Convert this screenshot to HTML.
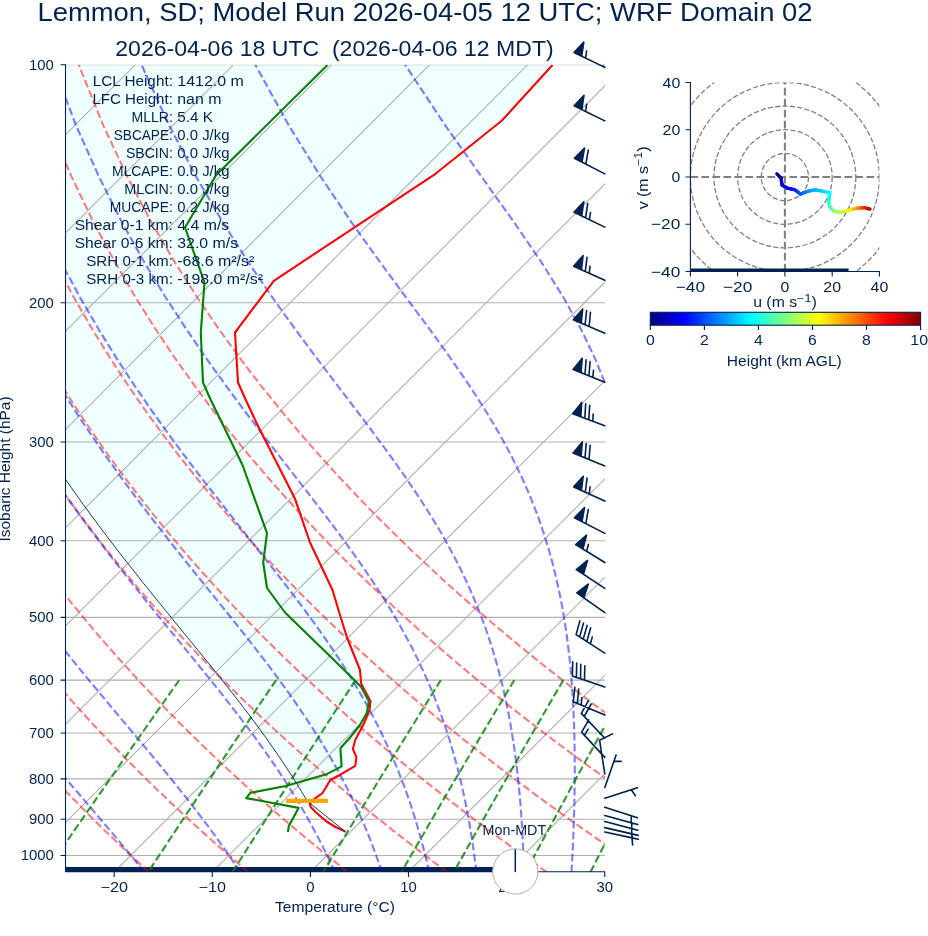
<!DOCTYPE html>
<html><head><meta charset="utf-8"><title>Skew-T</title>
<style>html,body{margin:0;padding:0;background:#fff}svg{display:block;will-change:transform}text{font-family:"Liberation Sans",sans-serif;fill:#00224f}</style>
</head><body>
<svg width="928" height="936" viewBox="0 0 928 936">
<rect width="928" height="936" fill="#fff"/>
<clipPath id="ax"><rect x="65.5" y="64.7" width="539.5" height="807.3"/></clipPath>
<g clip-path="url(#ax)">
<path d="M552.5,65.0 L502.0,120.5 L435.5,173.8 L273.8,280.8 L235.0,332.5 L238.0,382.5 L245.8,400.0 L257.5,425.0 L295.0,498.8 L310.0,542.5 L332.5,590.0 L340.0,615.0 L347.0,637.5 L360.0,670.0 L361.2,683.8 L370.5,701.2 L369.5,710.0 L363.8,723.8 L355.2,740.0 L352.9,749.0 L356.4,757.3 L355.2,765.9 L341.2,774.2 L330.3,780.0 L322.7,792.8 L314.4,798.8 L307.1,800.9 L306.4,799.7 L304.0,795.6 L301.5,791.5 L299.0,787.3 L296.4,783.1 L293.7,778.9 L290.9,774.5 L288.1,770.2 L285.2,765.7 L282.2,761.2 L279.1,756.7 L276.0,752.1 L272.7,747.4 L269.4,742.7 L266.0,737.9 L262.5,733.0 L258.9,728.1 L255.2,723.0 L251.4,718.0 L247.5,712.8 L243.5,707.6 L239.4,702.2 L235.2,696.8 L230.9,691.3 L226.5,685.7 L222.0,680.1 L217.4,674.3 L212.7,668.4 L207.9,662.4 L202.9,656.4 L197.9,650.2 L192.8,643.9 L187.5,637.5 L182.2,630.9 L176.7,624.2 L171.2,617.4 L165.5,610.5 L159.8,603.4 L153.9,596.2 L148.0,588.8 L141.9,581.3 L135.8,573.5 L129.6,565.6 L123.2,557.6 L116.8,549.3 L110.3,540.8 L103.7,532.1 L97.0,523.2 L90.2,514.0 L83.4,504.6 L76.4,494.9 L69.4,485.0 L62.3,474.7 L55.1,464.2 L47.8,453.3 L40.5,442.0 L33.1,430.4 L25.5,418.3 L18.0,405.8 L10.3,392.9 L2.6,379.4 L-5.2,365.4 L-13.1,350.8 L-21.0,335.5 L-29.0,319.5 L-37.0,302.8 L-45.1,285.1 L-53.2,266.6 L-61.3,246.9 L-69.5,226.1 L-77.6,204.0 L-85.6,180.3 L-93.6,154.8 L-101.4,127.3 L-109.0,97.4 L-116.3,64.7Z" fill="#f0ffff" stroke="none"/>
<path d="M65.5,64.7H605.0" stroke="#b0b0b0" stroke-width="1.1" fill="none"/>
<path d="M65.5,302.8H605.0" stroke="#b0b0b0" stroke-width="1.1" fill="none"/>
<path d="M65.5,442.0H605.0" stroke="#b0b0b0" stroke-width="1.1" fill="none"/>
<path d="M65.5,540.8H605.0" stroke="#b0b0b0" stroke-width="1.1" fill="none"/>
<path d="M65.5,617.4H605.0" stroke="#b0b0b0" stroke-width="1.1" fill="none"/>
<path d="M65.5,680.1H605.0" stroke="#b0b0b0" stroke-width="1.1" fill="none"/>
<path d="M65.5,733.0H605.0" stroke="#b0b0b0" stroke-width="1.1" fill="none"/>
<path d="M65.5,778.9H605.0" stroke="#b0b0b0" stroke-width="1.1" fill="none"/>
<path d="M65.5,819.3H605.0" stroke="#b0b0b0" stroke-width="1.1" fill="none"/>
<path d="M65.5,855.5H605.0" stroke="#b0b0b0" stroke-width="1.1" fill="none"/>
<path d="M-1161.1,872.0L-355.1,64.7M-1063.0,872.0L-257.0,64.7M-964.9,872.0L-158.9,64.7M-866.8,872.0L-60.8,64.7M-768.7,872.0L37.3,64.7M-670.6,872.0L135.4,64.7M-572.5,872.0L233.5,64.7M-474.4,872.0L331.6,64.7M-376.3,872.0L429.7,64.7M-278.2,872.0L527.8,64.7M-180.1,872.0L625.9,64.7M-82.0,872.0L724.0,64.7M16.1,872.0L822.1,64.7M114.2,872.0L920.2,64.7M212.3,872.0L1018.3,64.7M310.4,872.0L1116.4,64.7M408.5,872.0L1214.5,64.7M506.6,872.0L1312.6,64.7M604.7,872.0L1410.7,64.7" stroke="#b0b0b0" stroke-width="1.1" fill="none"/>
<rect x="65.5" y="867" width="450.5" height="5.5" fill="#00224f"/>
<path d="M49.6,872.3 L43.2,865.9 L36.7,859.3 L30.1,852.7 L23.5,845.9 L16.8,839.0 L10.1,831.9 L3.3,824.7 L-3.6,817.4 L-10.5,809.8 L-17.4,802.1 L-24.5,794.3 L-31.6,786.2 L-38.7,778.0 L-46.0,769.5 L-53.3,760.9 L-60.6,752.0 L-68.1,742.9 L-75.6,733.5 L-83.2,723.9 L-90.8,714.0 L-98.6,703.8 L-106.4,693.2 L-114.3,682.4 L-122.3,671.2 L-130.3,659.6 L-138.5,647.6 L-146.7,635.2 L-155.0,622.3 L-163.4,608.9 L-171.9,595.0 L-180.5,580.5 L-189.1,565.3 L-197.9,549.5 L-206.7,532.8 L-215.5,515.4 L-224.5,496.9 L-233.5,477.5 L-242.5,456.9 L-251.6,434.9 L-260.7,411.5 L-269.7,386.3 L-278.7,359.2 L-287.5,329.7 L-296.1,297.5 L-304.3,261.9 L-312.0,222.2 L-318.8,177.2 L-324.3,125.6 L-327.7,64.7M149.1,872.3 L142.1,865.9 L135.1,859.3 L128.0,852.7 L120.8,845.9 L113.6,839.0 L106.3,831.9 L98.9,824.7 L91.5,817.4 L84.0,809.8 L76.4,802.1 L68.8,794.3 L61.0,786.2 L53.2,778.0 L45.4,769.5 L37.4,760.9 L29.4,752.0 L21.3,742.9 L13.0,733.5 L4.8,723.9 L-3.6,714.0 L-12.1,703.8 L-20.7,693.2 L-29.3,682.4 L-38.1,671.2 L-47.0,659.6 L-56.0,647.6 L-65.0,635.2 L-74.2,622.3 L-83.5,608.9 L-92.9,595.0 L-102.4,580.5 L-112.1,565.3 L-121.8,549.5 L-131.7,532.8 L-141.6,515.4 L-151.7,496.9 L-161.9,477.5 L-172.1,456.9 L-182.5,434.9 L-192.9,411.5 L-203.3,386.3 L-213.8,359.2 L-224.1,329.7 L-234.4,297.5 L-244.4,261.9 L-254.1,222.2 L-263.0,177.2 L-270.9,125.6 L-276.9,64.7M248.6,872.3 L241.1,865.9 L233.5,859.3 L225.8,852.7 L218.1,845.9 L210.3,839.0 L202.5,831.9 L194.5,824.7 L186.5,817.4 L178.4,809.8 L170.2,802.1 L162.0,794.3 L153.6,786.2 L145.2,778.0 L136.7,769.5 L128.1,760.9 L119.4,752.0 L110.6,742.9 L101.7,733.5 L92.7,723.9 L83.6,714.0 L74.4,703.8 L65.0,693.2 L55.6,682.4 L46.0,671.2 L36.4,659.6 L26.6,647.6 L16.6,635.2 L6.6,622.3 L-3.6,608.9 L-13.9,595.0 L-24.4,580.5 L-35.0,565.3 L-45.8,549.5 L-56.6,532.8 L-67.7,515.4 L-78.9,496.9 L-90.2,477.5 L-101.7,456.9 L-113.3,434.9 L-125.1,411.5 L-136.9,386.3 L-148.8,359.2 L-160.8,329.7 L-172.7,297.5 L-184.6,261.9 L-196.1,222.2 L-207.2,177.2 L-217.4,125.6 L-226.1,64.7M348.1,872.3 L340.0,865.9 L331.9,859.3 L323.7,852.7 L315.4,845.9 L307.1,839.0 L298.7,831.9 L290.1,824.7 L281.5,817.4 L272.9,809.8 L264.1,802.1 L255.2,794.3 L246.2,786.2 L237.2,778.0 L228.0,769.5 L218.8,760.9 L209.4,752.0 L199.9,742.9 L190.3,733.5 L180.6,723.9 L170.8,714.0 L160.8,703.8 L150.7,693.2 L140.5,682.4 L130.2,671.2 L119.7,659.6 L109.1,647.6 L98.3,635.2 L87.4,622.3 L76.3,608.9 L65.1,595.0 L53.6,580.5 L42.1,565.3 L30.3,549.5 L18.4,532.8 L6.2,515.4 L-6.1,496.9 L-18.6,477.5 L-31.3,456.9 L-44.2,434.9 L-57.3,411.5 L-70.5,386.3 L-83.9,359.2 L-97.5,329.7 L-111.1,297.5 L-124.7,261.9 L-138.2,222.2 L-151.4,177.2 L-164.0,125.6 L-175.3,64.7M447.5,872.3 L439.0,865.9 L430.3,859.3 L421.6,852.7 L412.8,845.9 L403.9,839.0 L394.9,831.9 L385.8,824.7 L376.6,817.4 L367.3,809.8 L357.9,802.1 L348.4,794.3 L338.9,786.2 L329.2,778.0 L319.4,769.5 L309.4,760.9 L299.4,752.0 L289.2,742.9 L278.9,733.5 L268.5,723.9 L258.0,714.0 L247.3,703.8 L236.5,693.2 L225.5,682.4 L214.3,671.2 L203.1,659.6 L191.6,647.6 L180.0,635.2 L168.2,622.3 L156.2,608.9 L144.0,595.0 L131.7,580.5 L119.1,565.3 L106.3,549.5 L93.4,532.8 L80.2,515.4 L66.7,496.9 L53.0,477.5 L39.1,456.9 L24.9,434.9 L10.5,411.5 L-4.1,386.3 L-19.0,359.2 L-34.1,329.7 L-49.4,297.5 L-64.8,261.9 L-80.3,222.2 L-95.6,177.2 L-110.5,125.6 L-124.5,64.7M547.0,872.3 L537.9,865.9 L528.7,859.3 L519.4,852.7 L510.1,845.9 L500.6,839.0 L491.1,831.9 L481.4,824.7 L471.6,817.4 L461.7,809.8 L451.8,802.1 L441.7,794.3 L431.5,786.2 L421.1,778.0 L410.7,769.5 L400.1,760.9 L389.4,752.0 L378.6,742.9 L367.6,733.5 L356.5,723.9 L345.2,714.0 L333.8,703.8 L322.2,693.2 L310.4,682.4 L298.5,671.2 L286.4,659.6 L274.1,647.6 L261.7,635.2 L249.0,622.3 L236.1,608.9 L223.0,595.0 L209.7,580.5 L196.2,565.3 L182.4,549.5 L168.4,532.8 L154.1,515.4 L139.5,496.9 L124.7,477.5 L109.5,456.9 L94.1,434.9 L78.3,411.5 L62.3,386.3 L45.9,359.2 L29.2,329.7 L12.3,297.5 L-5.0,261.9 L-22.4,222.2 L-39.8,177.2 L-57.1,125.6 L-73.7,64.7M646.5,872.3 L636.9,865.9 L627.1,859.3 L617.3,852.7 L607.4,845.9 L597.4,839.0 L587.2,831.9 L577.0,824.7 L566.7,817.4 L556.2,809.8 L545.6,802.1 L534.9,794.3 L524.1,786.2 L513.1,778.0 L502.0,769.5 L490.8,760.9 L479.4,752.0 L467.9,742.9 L456.2,733.5 L444.4,723.9 L432.4,714.0 L420.2,703.8 L407.9,693.2 L395.4,682.4 L382.7,671.2 L369.8,659.6 L356.6,647.6 L343.3,635.2 L329.8,622.3 L316.0,608.9 L302.0,595.0 L287.8,580.5 L273.2,565.3 L258.4,549.5 L243.4,532.8 L228.0,515.4 L212.3,496.9 L196.3,477.5 L179.9,456.9 L163.2,434.9 L146.1,411.5 L128.7,386.3 L110.8,359.2 L92.6,329.7 L73.9,297.5 L54.9,261.9 L35.6,222.2 L16.0,177.2 L-3.6,125.6 L-22.9,64.7M746.0,872.3 L735.8,865.9 L725.6,859.3 L715.2,852.7 L704.7,845.9 L694.1,839.0 L683.4,831.9 L672.6,824.7 L661.7,817.4 L650.6,809.8 L639.4,802.1 L628.1,794.3 L616.7,786.2 L605.1,778.0 L593.3,769.5 L581.5,760.9 L569.4,752.0 L557.2,742.9 L544.8,733.5 L532.3,723.9 L519.6,714.0 L506.7,703.8 L493.6,693.2 L480.3,682.4 L466.8,671.2 L453.1,659.6 L439.2,647.6 L425.0,635.2 L410.6,622.3 L395.9,608.9 L381.0,595.0 L365.8,580.5 L350.3,565.3 L334.5,549.5 L318.4,532.8 L301.9,515.4 L285.1,496.9 L267.9,477.5 L250.3,456.9 L232.4,434.9 L213.9,411.5 L195.1,386.3 L175.7,359.2 L155.9,329.7 L135.6,297.5 L114.8,261.9 L93.5,222.2 L71.8,177.2 L49.8,125.6 L27.9,64.7M845.4,872.3 L834.8,865.9 L824.0,859.3 L813.1,852.7 L802.0,845.9 L790.9,839.0 L779.6,831.9 L768.2,824.7 L756.7,817.4 L745.1,809.8 L733.3,802.1 L721.4,794.3 L709.3,786.2 L697.1,778.0 L684.7,769.5 L672.1,760.9 L659.4,752.0 L646.5,742.9 L633.5,733.5 L620.2,723.9 L606.8,714.0 L593.2,703.8 L579.3,693.2 L565.3,682.4 L551.0,671.2 L536.5,659.6 L521.7,647.6 L506.7,635.2 L491.4,622.3 L475.8,608.9 L460.0,595.0 L443.8,580.5 L427.4,565.3 L410.5,549.5 L393.4,532.8 L375.8,515.4 L357.9,496.9 L339.6,477.5 L320.8,456.9 L301.5,434.9 L281.8,411.5 L261.5,386.3 L240.7,359.2 L219.3,329.7 L197.3,297.5 L174.6,261.9 L151.4,222.2 L127.6,177.2 L103.3,125.6 L78.7,64.7" stroke="#ff0000" stroke-opacity="0.5" stroke-width="2.15" stroke-dasharray="7.7 3.3" fill="none"/>
<path d="M47.5,872.3 L41.9,865.9 L36.2,859.3 L30.4,852.7 L24.5,845.9 L18.5,839.0 L12.3,831.9 L6.1,824.7 L-0.3,817.4 L-6.7,809.8 L-13.3,802.1 L-20.0,794.3 L-26.7,786.2 L-33.6,778.0 L-40.6,769.5 L-47.7,760.9 L-54.9,752.0 L-62.2,742.9 L-69.5,733.5 L-77.0,723.9 L-84.6,714.0 L-92.3,703.8 L-100.1,693.2 L-107.9,682.4 L-115.9,671.2 L-124.0,659.6 L-132.1,647.6 L-140.4,635.2 L-148.7,622.3 L-157.2,608.9 L-165.7,595.0 L-174.4,580.5 L-183.1,565.3 L-191.9,549.5 L-200.8,532.8 L-209.7,515.4 L-218.8,496.9 L-227.8,477.5 L-237.0,456.9 L-246.2,434.9 L-255.3,411.5 L-264.5,386.3 L-273.6,359.2 L-282.5,329.7 L-291.2,297.5 L-299.6,261.9 L-307.4,222.2 L-314.4,177.2 L-320.1,125.6 L-323.7,64.7M144.6,872.3 L139.4,865.9 L134.1,859.3 L128.6,852.7 L123.0,845.9 L117.2,839.0 L111.3,831.9 L105.2,824.7 L98.9,817.4 L92.5,809.8 L85.9,802.1 L79.2,794.3 L72.3,786.2 L65.3,778.0 L58.1,769.5 L50.7,760.9 L43.2,752.0 L35.5,742.9 L27.7,733.5 L19.7,723.9 L11.6,714.0 L3.3,703.8 L-5.1,693.2 L-13.7,682.4 L-22.4,671.2 L-31.2,659.6 L-40.2,647.6 L-49.3,635.2 L-58.6,622.3 L-68.0,608.9 L-77.5,595.0 L-87.1,580.5 L-96.9,565.3 L-106.8,549.5 L-116.9,532.8 L-127.0,515.4 L-137.3,496.9 L-147.7,477.5 L-158.2,456.9 L-168.8,434.9 L-179.5,411.5 L-190.2,386.3 L-200.9,359.2 L-211.6,329.7 L-222.2,297.5 L-232.6,261.9 L-242.6,222.2 L-252.0,177.2 L-260.3,125.6 L-266.9,64.7M240.3,872.3 L236.1,865.9 L231.7,859.3 L227.1,852.7 L222.4,845.9 L217.4,839.0 L212.3,831.9 L206.9,824.7 L201.4,817.4 L195.6,809.8 L189.7,802.1 L183.5,794.3 L177.0,786.2 L170.4,778.0 L163.5,769.5 L156.4,760.9 L149.0,752.0 L141.4,742.9 L133.6,733.5 L125.5,723.9 L117.2,714.0 L108.6,703.8 L99.8,693.2 L90.8,682.4 L81.6,671.2 L72.2,659.6 L62.5,647.6 L52.6,635.2 L42.5,622.3 L32.2,608.9 L21.7,595.0 L11.0,580.5 L0.1,565.3 L-11.0,549.5 L-22.3,532.8 L-33.8,515.4 L-45.4,496.9 L-57.3,477.5 L-69.3,456.9 L-81.5,434.9 L-93.8,411.5 L-106.3,386.3 L-118.9,359.2 L-131.6,329.7 L-144.3,297.5 L-157.0,261.9 L-169.4,222.2 L-181.5,177.2 L-192.8,125.6 L-202.7,64.7M334.9,872.3 L332.0,865.9 L329.0,859.3 L325.8,852.7 L322.5,845.9 L318.9,839.0 L315.2,831.9 L311.3,824.7 L307.2,817.4 L302.9,809.8 L298.3,802.1 L293.5,794.3 L288.5,786.2 L283.2,778.0 L277.6,769.5 L271.7,760.9 L265.5,752.0 L258.9,742.9 L252.1,733.5 L244.9,723.9 L237.3,714.0 L229.4,703.8 L221.1,693.2 L212.5,682.4 L203.4,671.2 L194.0,659.6 L184.2,647.6 L174.1,635.2 L163.5,622.3 L152.6,608.9 L141.4,595.0 L129.8,580.5 L117.8,565.3 L105.5,549.5 L92.9,532.8 L80.0,515.4 L66.8,496.9 L53.3,477.5 L39.5,456.9 L25.4,434.9 L11.0,411.5 L-3.6,386.3 L-18.5,359.2 L-33.6,329.7 L-48.9,297.5 L-64.3,261.9 L-79.8,222.2 L-95.1,177.2 L-110.1,125.6 L-124.1,64.7M382.0,872.3 L379.9,865.9 L377.6,859.3 L375.2,852.7 L372.6,845.9 L370.0,839.0 L367.1,831.9 L364.1,824.7 L360.9,817.4 L357.5,809.8 L354.0,802.1 L350.1,794.3 L346.1,786.2 L341.8,778.0 L337.3,769.5 L332.4,760.9 L327.3,752.0 L321.8,742.9 L316.0,733.5 L309.8,723.9 L303.2,714.0 L296.3,703.8 L288.9,693.2 L281.0,682.4 L272.8,671.2 L264.0,659.6 L254.7,647.6 L245.0,635.2 L234.8,622.3 L224.0,608.9 L212.8,595.0 L201.1,580.5 L188.9,565.3 L176.2,549.5 L163.1,532.8 L149.5,515.4 L135.5,496.9 L121.1,477.5 L106.4,456.9 L91.2,434.9 L75.6,411.5 L59.7,386.3 L43.4,359.2 L26.9,329.7 L10.0,297.5 L-7.2,261.9 L-24.5,222.2 L-41.9,177.2 L-59.0,125.6 L-75.6,64.7M429.2,872.3 L427.7,865.9 L426.2,859.3 L424.6,852.7 L422.8,845.9 L421.0,839.0 L419.0,831.9 L416.9,824.7 L414.7,817.4 L412.3,809.8 L409.8,802.1 L407.1,794.3 L404.2,786.2 L401.0,778.0 L397.7,769.5 L394.1,760.9 L390.3,752.0 L386.1,742.9 L381.7,733.5 L376.9,723.9 L371.7,714.0 L366.2,703.8 L360.2,693.2 L353.8,682.4 L346.9,671.2 L339.4,659.6 L331.5,647.6 L322.9,635.2 L313.7,622.3 L303.8,608.9 L293.4,595.0 L282.2,580.5 L270.3,565.3 L257.8,549.5 L244.6,532.8 L230.8,515.4 L216.3,496.9 L201.1,477.5 L185.4,456.9 L169.1,434.9 L152.3,411.5 L135.0,386.3 L117.2,359.2 L98.9,329.7 L80.1,297.5 L60.9,261.9 L41.4,222.2 L21.6,177.2 L1.8,125.6 L-17.7,64.7M476.4,872.3 L475.7,865.9 L474.8,859.3 L473.9,852.7 L473.0,845.9 L471.9,839.0 L470.8,831.9 L469.6,824.7 L468.3,817.4 L466.9,809.8 L465.4,802.1 L463.7,794.3 L461.9,786.2 L460.0,778.0 L457.9,769.5 L455.6,760.9 L453.1,752.0 L450.4,742.9 L447.5,733.5 L444.3,723.9 L440.8,714.0 L437.0,703.8 L432.9,693.2 L428.3,682.4 L423.3,671.2 L417.9,659.6 L411.9,647.6 L405.3,635.2 L398.1,622.3 L390.2,608.9 L381.6,595.0 L372.1,580.5 L361.8,565.3 L350.6,549.5 L338.4,532.8 L325.3,515.4 L311.1,496.9 L296.0,477.5 L280.0,456.9 L263.0,434.9 L245.1,411.5 L226.4,386.3 L206.9,359.2 L186.7,329.7 L165.7,297.5 L144.1,261.9 L121.9,222.2 L99.2,177.2 L76.1,125.6 L52.9,64.7M523.9,872.3 L523.7,865.9 L523.5,859.3 L523.3,852.7 L523.0,845.9 L522.7,839.0 L522.3,831.9 L521.9,824.7 L521.4,817.4 L520.9,809.8 L520.3,802.1 L519.6,794.3 L518.8,786.2 L518.0,778.0 L517.0,769.5 L516.0,760.9 L514.8,752.0 L513.5,742.9 L512.0,733.5 L510.4,723.9 L508.6,714.0 L506.5,703.8 L504.2,693.2 L501.7,682.4 L498.8,671.2 L495.6,659.6 L492.0,647.6 L488.0,635.2 L483.4,622.3 L478.3,608.9 L472.5,595.0 L466.0,580.5 L458.7,565.3 L450.4,549.5 L441.1,532.8 L430.6,515.4 L418.8,496.9 L405.7,477.5 L391.1,456.9 L374.9,434.9 L357.3,411.5 L338.1,386.3 L317.5,359.2 L295.6,329.7 L272.4,297.5 L248.1,261.9 L222.8,222.2 L196.4,177.2 L169.3,125.6 L141.5,64.7M571.5,872.3 L571.9,865.9 L572.2,859.3 L572.6,852.7 L572.9,845.9 L573.2,839.0 L573.4,831.9 L573.7,824.7 L573.9,817.4 L574.2,809.8 L574.4,802.1 L574.5,794.3 L574.6,786.2 L574.7,778.0 L574.8,769.5 L574.7,760.9 L574.7,752.0 L574.5,742.9 L574.3,733.5 L574.0,723.9 L573.6,714.0 L573.1,703.8 L572.5,693.2 L571.7,682.4 L570.8,671.2 L569.7,659.6 L568.3,647.6 L566.7,635.2 L564.8,622.3 L562.6,608.9 L559.9,595.0 L556.8,580.5 L553.1,565.3 L548.8,549.5 L543.6,532.8 L537.6,515.4 L530.4,496.9 L521.9,477.5 L511.9,456.9 L500.0,434.9 L486.1,411.5 L469.9,386.3 L451.2,359.2 L430.0,329.7 L406.1,297.5 L379.9,261.9 L351.4,222.2 L321.0,177.2 L288.9,125.6 L255.3,64.7M619.4,872.3 L620.2,865.9 L621.0,859.3 L621.8,852.7 L622.6,845.9 L623.4,839.0 L624.2,831.9 L625.0,824.7 L625.9,817.4 L626.7,809.8 L627.5,802.1 L628.4,794.3 L629.2,786.2 L630.0,778.0 L630.9,769.5 L631.7,760.9 L632.5,752.0 L633.3,742.9 L634.1,733.5 L634.9,723.9 L635.7,714.0 L636.4,703.8 L637.1,693.2 L637.8,682.4 L638.4,671.2 L638.9,659.6 L639.4,647.6 L639.7,635.2 L640.0,622.3 L640.1,608.9 L640.0,595.0 L639.8,580.5 L639.3,565.3 L638.5,549.5 L637.3,532.8 L635.6,515.4 L633.4,496.9 L630.4,477.5 L626.5,456.9 L621.4,434.9 L614.8,411.5 L606.3,386.3 L595.3,359.2 L581.3,329.7 L563.5,297.5 L541.2,261.9 L514.0,222.2 L481.9,177.2 L445.4,125.6 L405.1,64.7M667.6,872.3 L668.7,865.9 L669.8,859.3 L671.0,852.7 L672.2,845.9 L673.4,839.0 L674.7,831.9 L675.9,824.7 L677.2,817.4 L678.5,809.8 L679.9,802.1 L681.2,794.3 L682.6,786.2 L684.1,778.0 L685.5,769.5 L687.0,760.9 L688.5,752.0 L690.0,742.9 L691.6,733.5 L693.2,723.9 L694.8,714.0 L696.5,703.8 L698.2,693.2 L699.9,682.4 L701.6,671.2 L703.4,659.6 L705.2,647.6 L707.0,635.2 L708.8,622.3 L710.7,608.9 L712.5,595.0 L714.3,580.5 L716.1,565.3 L717.8,549.5 L719.5,532.8 L721.1,515.4 L722.5,496.9 L723.8,477.5 L724.7,456.9 L725.3,434.9 L725.3,411.5 L724.6,386.3 L722.8,359.2 L719.6,329.7 L714.1,297.5 L705.4,261.9 L692.1,222.2 L671.9,177.2 L642.7,125.6 L602.5,64.7" stroke="#0000ff" stroke-opacity="0.5" stroke-width="2.15" stroke-dasharray="7.7 3.3" fill="none"/>
<path d="M179.2,680.1 L175.6,685.3 L171.9,690.4 L168.4,695.5 L164.9,700.5 L161.4,705.4 L158.0,710.2 L154.7,715.0 L151.4,719.7 L148.1,724.4 L144.9,729.0 L141.7,733.5 L138.6,738.0 L135.5,742.4 L132.5,746.7 L129.5,751.0 L126.5,755.3 L123.6,759.5 L120.7,763.6 L117.9,767.7 L115.1,771.8 L112.3,775.8 L109.5,779.7 L106.8,783.6 L104.1,787.5 L101.5,791.3 L98.8,795.1 L96.2,798.9 L93.7,802.6 L91.1,806.2 L88.6,809.8 L86.2,813.4 L83.7,817.0 L81.3,820.5 L78.9,824.0 L76.5,827.4 L74.1,830.8 L71.8,834.2 L69.5,837.5 L67.2,840.8 L65.0,844.1 L62.7,847.3 L60.5,850.6 L58.3,853.7 L56.1,856.9 L54.0,860.0 L51.9,863.1 L49.8,866.2 L47.7,869.2 L45.6,872.3M276.1,680.1 L272.6,685.3 L269.1,690.4 L265.7,695.5 L262.3,700.5 L259.0,705.4 L255.8,710.2 L252.6,715.0 L249.4,719.7 L246.3,724.4 L243.2,729.0 L240.2,733.5 L237.2,738.0 L234.2,742.4 L231.3,746.7 L228.4,751.0 L225.6,755.3 L222.8,759.5 L220.0,763.6 L217.3,767.7 L214.6,771.8 L211.9,775.8 L209.3,779.7 L206.7,783.6 L204.1,787.5 L201.6,791.3 L199.0,795.1 L196.6,798.9 L194.1,802.6 L191.7,806.2 L189.3,809.8 L186.9,813.4 L184.6,817.0 L182.2,820.5 L179.9,824.0 L177.7,827.4 L175.4,830.8 L173.2,834.2 L171.0,837.5 L168.8,840.8 L166.6,844.1 L164.5,847.3 L162.4,850.6 L160.3,853.7 L158.2,856.9 L156.2,860.0 L154.1,863.1 L152.1,866.2 L150.1,869.2 L148.1,872.3M355.5,680.1 L352.1,685.3 L348.8,690.4 L345.5,695.5 L342.3,700.5 L339.1,705.4 L335.9,710.2 L332.8,715.0 L329.8,719.7 L326.8,724.4 L323.8,729.0 L320.9,733.5 L318.0,738.0 L315.2,742.4 L312.4,746.7 L309.6,751.0 L306.9,755.3 L304.2,759.5 L301.5,763.6 L298.9,767.7 L296.3,771.8 L293.7,775.8 L291.2,779.7 L288.7,783.6 L286.2,787.5 L283.8,791.3 L281.3,795.1 L278.9,798.9 L276.6,802.6 L274.3,806.2 L271.9,809.8 L269.7,813.4 L267.4,817.0 L265.2,820.5 L263.0,824.0 L260.8,827.4 L258.6,830.8 L256.5,834.2 L254.4,837.5 L252.3,840.8 L250.2,844.1 L248.1,847.3 L246.1,850.6 L244.1,853.7 L242.1,856.9 L240.1,860.0 L238.2,863.1 L236.2,866.2 L234.3,869.2 L232.4,872.3M440.8,680.1 L437.6,685.3 L434.4,690.4 L431.2,695.5 L428.1,700.5 L425.1,705.4 L422.1,710.2 L419.1,715.0 L416.2,719.7 L413.3,724.4 L410.4,729.0 L407.6,733.5 L404.9,738.0 L402.2,742.4 L399.5,746.7 L396.8,751.0 L394.2,755.3 L391.6,759.5 L389.1,763.6 L386.6,767.7 L384.1,771.8 L381.6,775.8 L379.2,779.7 L376.8,783.6 L374.5,787.5 L372.1,791.3 L369.8,795.1 L367.5,798.9 L365.3,802.6 L363.0,806.2 L360.8,809.8 L358.7,813.4 L356.5,817.0 L354.4,820.5 L352.3,824.0 L350.2,827.4 L348.1,830.8 L346.1,834.2 L344.1,837.5 L342.1,840.8 L340.1,844.1 L338.1,847.3 L336.2,850.6 L334.3,853.7 L332.4,856.9 L330.5,860.0 L328.6,863.1 L326.8,866.2 L324.9,869.2 L323.1,872.3M514.3,680.1 L511.2,685.3 L508.1,690.4 L505.0,695.5 L502.1,700.5 L499.1,705.4 L496.2,710.2 L493.4,715.0 L490.6,719.7 L487.8,724.4 L485.1,729.0 L482.4,733.5 L479.7,738.0 L477.1,742.4 L474.5,746.7 L472.0,751.0 L469.5,755.3 L467.0,759.5 L464.6,763.6 L462.2,767.7 L459.8,771.8 L457.4,775.8 L455.1,779.7 L452.8,783.6 L450.5,787.5 L448.3,791.3 L446.1,795.1 L443.9,798.9 L441.7,802.6 L439.6,806.2 L437.5,809.8 L435.4,813.4 L433.3,817.0 L431.3,820.5 L429.3,824.0 L427.3,827.4 L425.3,830.8 L423.4,834.2 L421.4,837.5 L419.5,840.8 L417.6,844.1 L415.7,847.3 L413.9,850.6 L412.0,853.7 L410.2,856.9 L408.4,860.0 L406.6,863.1 L404.9,866.2 L403.1,869.2 L401.4,872.3M563.3,680.1 L560.3,685.3 L557.3,690.4 L554.3,695.5 L551.4,700.5 L548.6,705.4 L545.8,710.2 L543.0,715.0 L540.3,719.7 L537.6,724.4 L534.9,729.0 L532.3,733.5 L529.7,738.0 L527.2,742.4 L524.7,746.7 L522.2,751.0 L519.8,755.3 L517.4,759.5 L515.0,763.6 L512.7,767.7 L510.4,771.8 L508.1,775.8 L505.8,779.7 L503.6,783.6 L501.4,787.5 L499.2,791.3 L497.1,795.1 L494.9,798.9 L492.9,802.6 L490.8,806.2 L488.7,809.8 L486.7,813.4 L484.7,817.0 L482.7,820.5 L480.8,824.0 L478.8,827.4 L476.9,830.8 L475.0,834.2 L473.1,837.5 L471.3,840.8 L469.5,844.1 L467.6,847.3 L465.8,850.6 L464.1,853.7 L462.3,856.9 L460.6,860.0 L458.8,863.1 L457.1,866.2 L455.4,869.2 L453.7,872.3M630.6,680.1 L627.7,685.3 L624.8,690.4 L622.0,695.5 L619.2,700.5 L616.4,705.4 L613.7,710.2 L611.1,715.0 L608.5,719.7 L605.9,724.4 L603.3,729.0 L600.8,733.5 L598.4,738.0 L595.9,742.4 L593.5,746.7 L591.2,751.0 L588.8,755.3 L586.5,759.5 L584.3,763.6 L582.0,767.7 L579.8,771.8 L577.6,775.8 L575.5,779.7 L573.3,783.6 L571.2,787.5 L569.1,791.3 L567.1,795.1 L565.1,798.9 L563.1,802.6 L561.1,806.2 L559.1,809.8 L557.2,813.4 L555.3,817.0 L553.4,820.5 L551.5,824.0 L549.6,827.4 L547.8,830.8 L546.0,834.2 L544.2,837.5 L542.4,840.8 L540.7,844.1 L539.0,847.3 L537.2,850.6 L535.5,853.7 L533.9,856.9 L532.2,860.0 L530.5,863.1 L528.9,866.2 L527.3,869.2 L525.7,872.3M691.0,680.1 L688.2,685.3 L685.4,690.4 L682.7,695.5 L680.0,700.5 L677.4,705.4 L674.8,710.2 L672.2,715.0 L669.7,719.7 L667.2,724.4 L664.8,729.0 L662.4,733.5 L660.0,738.0 L657.7,742.4 L655.4,746.7 L653.1,751.0 L650.9,755.3 L648.7,759.5 L646.5,763.6 L644.3,767.7 L642.2,771.8 L640.1,775.8 L638.0,779.7 L636.0,783.6 L634.0,787.5 L632.0,791.3 L630.0,795.1 L628.1,798.9 L626.1,802.6 L624.2,806.2 L622.4,809.8 L620.5,813.4 L618.7,817.0 L616.9,820.5 L615.1,824.0 L613.3,827.4 L611.6,830.8 L609.8,834.2 L608.1,837.5 L606.4,840.8 L604.7,844.1 L603.1,847.3 L601.4,850.6 L599.8,853.7 L598.2,856.9 L596.6,860.0 L595.0,863.1 L593.5,866.2 L591.9,869.2 L590.4,872.3M735.1,680.1 L732.4,685.3 L729.7,690.4 L727.0,695.5 L724.4,700.5 L721.9,705.4 L719.4,710.2 L716.9,715.0 L714.4,719.7 L712.0,724.4 L709.7,729.0 L707.3,733.5 L705.0,738.0 L702.8,742.4 L700.5,746.7 L698.3,751.0 L696.2,755.3 L694.0,759.5 L691.9,763.6 L689.8,767.7 L687.8,771.8 L685.7,775.8 L683.7,779.7 L681.8,783.6 L679.8,787.5 L677.9,791.3 L676.0,795.1 L674.1,798.9 L672.2,802.6 L670.4,806.2 L668.6,809.8 L666.8,813.4 L665.0,817.0 L663.3,820.5 L661.5,824.0 L659.8,827.4 L658.1,830.8 L656.4,834.2 L654.8,837.5 L653.1,840.8 L651.5,844.1 L649.9,847.3 L648.3,850.6 L646.8,853.7 L645.2,856.9 L643.7,860.0 L642.2,863.1 L640.6,866.2 L639.2,869.2 L637.7,872.3" stroke="#008000" stroke-opacity="0.8" stroke-width="2.15" stroke-dasharray="7.7 3.3" fill="none"/>
<path d="M552.5,65.0 L502.0,120.5 L435.5,173.8 L273.8,280.8 L235.0,332.5 L238.0,382.5 L245.8,400.0 L257.5,425.0 L295.0,498.8 L310.0,542.5 L332.5,590.0 L340.0,615.0 L347.0,637.5 L360.0,670.0 L361.2,683.8 L370.5,701.2 L369.5,710.0 L363.8,723.8 L355.2,740.0 L352.9,749.0 L356.4,757.3 L355.2,765.9 L341.2,774.2 L330.3,780.0 L322.7,792.8 L314.4,798.8 L309.9,803.4 L310.7,807.1 L316.0,812.5 L326.5,821.5 L335.5,827.0 L345.4,831.6" fill="none" stroke="#ff0000" stroke-width="2.1" stroke-linejoin="round"/>
<path d="M327.5,65.0 L216.2,175.0 L185.0,227.5 L204.5,282.5 L200.8,332.5 L203.0,382.5 L210.8,400.0 L242.5,465.0 L267.0,533.2 L263.2,562.5 L267.0,588.0 L285.0,612.5 L328.8,655.0 L353.8,679.5 L361.2,687.0 L368.8,701.2 L367.0,712.5 L360.0,725.0 L350.0,737.5 L340.4,748.3 L341.6,766.4 L327.3,773.9 L285.8,786.0 L250.3,792.8 L246.3,798.1 L298.6,807.9 L288.8,826.0 L288.0,832.0" fill="none" stroke="#008000" stroke-width="2.1" stroke-linejoin="round"/>
<path d="M345.5,831.8 L307.1,800.9 L306.4,799.7 L304.0,795.6 L301.5,791.5 L299.0,787.3 L296.4,783.1 L293.7,778.9 L290.9,774.5 L288.1,770.2 L285.2,765.7 L282.2,761.2 L279.1,756.7 L276.0,752.1 L272.7,747.4 L269.4,742.7 L266.0,737.9 L262.5,733.0 L258.9,728.1 L255.2,723.0 L251.4,718.0 L247.5,712.8 L243.5,707.6 L239.4,702.2 L235.2,696.8 L230.9,691.3 L226.5,685.7 L222.0,680.1 L217.4,674.3 L212.7,668.4 L207.9,662.4 L202.9,656.4 L197.9,650.2 L192.8,643.9 L187.5,637.5 L182.2,630.9 L176.7,624.2 L171.2,617.4 L165.5,610.5 L159.8,603.4 L153.9,596.2 L148.0,588.8 L141.9,581.3 L135.8,573.5 L129.6,565.6 L123.2,557.6 L116.8,549.3 L110.3,540.8 L103.7,532.1 L97.0,523.2 L90.2,514.0 L83.4,504.6 L76.4,494.9 L69.4,485.0 L62.3,474.7 L55.1,464.2 L47.8,453.3 L40.5,442.0 L33.1,430.4 L25.5,418.3 L18.0,405.8 L10.3,392.9 L2.6,379.4 L-5.2,365.4 L-13.1,350.8 L-21.0,335.5 L-29.0,319.5 L-37.0,302.8 L-45.1,285.1 L-53.2,266.6 L-61.3,246.9 L-69.5,226.1 L-77.6,204.0 L-85.6,180.3 L-93.6,154.8 L-101.4,127.3 L-109.0,97.4 L-116.3,64.7" fill="none" stroke="#00224f" stroke-width="0.9"/>
<path d="M286.2,800.9H328" fill="none" stroke="#ffa500" stroke-width="4.1"/>
</g>
<path d="M65.5,64.2V872.0" stroke="#00224f" stroke-width="1.1" fill="none"/>
<path d="M65.5,871.7H605.0" stroke="#00224f" stroke-width="1.1" fill="none"/>
<text x="53.8" y="69.5" font-size="13.78" text-anchor="end" textLength="24.8" lengthAdjust="spacingAndGlyphs">100</text>
<text x="53.8" y="307.6" font-size="13.78" text-anchor="end" textLength="24.8" lengthAdjust="spacingAndGlyphs">200</text>
<text x="53.8" y="446.8" font-size="13.78" text-anchor="end" textLength="24.8" lengthAdjust="spacingAndGlyphs">300</text>
<text x="53.8" y="545.6" font-size="13.78" text-anchor="end" textLength="24.8" lengthAdjust="spacingAndGlyphs">400</text>
<text x="53.8" y="622.2" font-size="13.78" text-anchor="end" textLength="24.8" lengthAdjust="spacingAndGlyphs">500</text>
<text x="53.8" y="684.9" font-size="13.78" text-anchor="end" textLength="24.8" lengthAdjust="spacingAndGlyphs">600</text>
<text x="53.8" y="737.8" font-size="13.78" text-anchor="end" textLength="24.8" lengthAdjust="spacingAndGlyphs">700</text>
<text x="53.8" y="783.7" font-size="13.78" text-anchor="end" textLength="24.8" lengthAdjust="spacingAndGlyphs">800</text>
<text x="53.8" y="824.1" font-size="13.78" text-anchor="end" textLength="24.8" lengthAdjust="spacingAndGlyphs">900</text>
<text x="53.8" y="860.3" font-size="13.78" text-anchor="end" textLength="33.1" lengthAdjust="spacingAndGlyphs">1000</text>
<text x="114.2" y="892.0" font-size="13.78" text-anchor="middle" textLength="27.4" lengthAdjust="spacingAndGlyphs">−20</text>
<text x="212.3" y="892.0" font-size="13.78" text-anchor="middle" textLength="27.4" lengthAdjust="spacingAndGlyphs">−10</text>
<text x="310.4" y="892.0" font-size="13.78" text-anchor="middle" textLength="8.3" lengthAdjust="spacingAndGlyphs">0</text>
<text x="408.5" y="892.0" font-size="13.78" text-anchor="middle" textLength="16.5" lengthAdjust="spacingAndGlyphs">10</text>
<text x="506.6" y="892.0" font-size="13.78" text-anchor="middle" textLength="16.5" lengthAdjust="spacingAndGlyphs">20</text>
<text x="604.7" y="892.0" font-size="13.78" text-anchor="middle" textLength="16.5" lengthAdjust="spacingAndGlyphs">30</text>
<path d="M60.6,64.7H65.5M60.6,302.8H65.5M60.6,442.0H65.5M60.6,540.8H65.5M60.6,617.4H65.5M60.6,680.1H65.5M60.6,733.0H65.5M60.6,778.9H65.5M60.6,819.3H65.5M60.6,855.5H65.5M114.2,872.0V876.9M212.3,872.0V876.9M310.4,872.0V876.9M408.5,872.0V876.9M506.6,872.0V876.9M604.7,872.0V876.9" stroke="#00224f" stroke-width="1.1" fill="none"/>
<text x="335.0" y="912.0" font-size="14.73" text-anchor="middle" textLength="120.0" lengthAdjust="spacingAndGlyphs">Temperature (°C)</text>
<text x="10.2" y="469.0" font-size="14.73" text-anchor="middle" textLength="145.1" lengthAdjust="spacingAndGlyphs" transform="rotate(-90 10.2 469.0)">Isobaric Height (hPa)</text>
<text x="425.0" y="20.8" font-size="26.50" text-anchor="middle" textLength="775.1" lengthAdjust="spacingAndGlyphs">Lemmon, SD; Model Run 2026-04-05 12 UTC; WRF Domain 02</text>
<text x="334.5" y="56.2" font-size="22.05" text-anchor="middle" textLength="438.5" lengthAdjust="spacingAndGlyphs" xml:space="preserve">2026-04-06 18 UTC  (2026-04-06 12 MDT)</text>
<text x="172.9" y="86.3" font-size="14.73" text-anchor="end" textLength="80.2" lengthAdjust="spacingAndGlyphs">LCL Height:</text>
<text x="177.3" y="86.3" font-size="14.73" text-anchor="start" textLength="66.6" lengthAdjust="spacingAndGlyphs">1412.0 m</text>
<text x="172.9" y="104.2" font-size="14.73" text-anchor="end" textLength="80.5" lengthAdjust="spacingAndGlyphs">LFC Height:</text>
<text x="177.3" y="104.2" font-size="14.73" text-anchor="start" textLength="44.1" lengthAdjust="spacingAndGlyphs">nan m</text>
<text x="172.9" y="122.2" font-size="14.73" text-anchor="end" textLength="41.4" lengthAdjust="spacingAndGlyphs">MLLR:</text>
<text x="177.3" y="122.2" font-size="14.73" text-anchor="start" textLength="35.6" lengthAdjust="spacingAndGlyphs">5.4 K</text>
<text x="172.9" y="140.1" font-size="14.73" text-anchor="end" textLength="59.2" lengthAdjust="spacingAndGlyphs">SBCAPE:</text>
<text x="177.3" y="140.1" font-size="14.73" text-anchor="start" textLength="52.2" lengthAdjust="spacingAndGlyphs">0.0 J/kg</text>
<text x="172.9" y="158.1" font-size="14.73" text-anchor="end" textLength="47.0" lengthAdjust="spacingAndGlyphs">SBCIN:</text>
<text x="177.3" y="158.1" font-size="14.73" text-anchor="start" textLength="52.2" lengthAdjust="spacingAndGlyphs">0.0 J/kg</text>
<text x="172.9" y="176.1" font-size="14.73" text-anchor="end" textLength="60.8" lengthAdjust="spacingAndGlyphs">MLCAPE:</text>
<text x="177.3" y="176.1" font-size="14.73" text-anchor="start" textLength="52.2" lengthAdjust="spacingAndGlyphs">0.0 J/kg</text>
<text x="172.9" y="194.0" font-size="14.73" text-anchor="end" textLength="48.6" lengthAdjust="spacingAndGlyphs">MLCIN:</text>
<text x="177.3" y="194.0" font-size="14.73" text-anchor="start" textLength="52.2" lengthAdjust="spacingAndGlyphs">0.0 J/kg</text>
<text x="172.9" y="211.9" font-size="14.73" text-anchor="end" textLength="63.2" lengthAdjust="spacingAndGlyphs">MUCAPE:</text>
<text x="177.3" y="211.9" font-size="14.73" text-anchor="start" textLength="52.2" lengthAdjust="spacingAndGlyphs">0.2 J/kg</text>
<text x="172.9" y="229.9" font-size="14.73" text-anchor="end" textLength="98.2" lengthAdjust="spacingAndGlyphs">Shear 0-1 km:</text>
<text x="177.3" y="229.9" font-size="14.73" text-anchor="start" textLength="52.0" lengthAdjust="spacingAndGlyphs">4.4 m/s</text>
<text x="172.9" y="247.8" font-size="14.73" text-anchor="end" textLength="98.2" lengthAdjust="spacingAndGlyphs">Shear 0-6 km:</text>
<text x="177.3" y="247.8" font-size="14.73" text-anchor="start" textLength="60.8" lengthAdjust="spacingAndGlyphs">32.0 m/s</text>
<text x="172.9" y="265.8" font-size="14.73" text-anchor="end" textLength="86.7" lengthAdjust="spacingAndGlyphs">SRH 0-1 km:</text>
<text x="177.3" y="265.8" font-size="14.73" text-anchor="start" textLength="77.0" lengthAdjust="spacingAndGlyphs">-68.6 m²/s²</text>
<text x="172.9" y="283.8" font-size="14.73" text-anchor="end" textLength="86.7" lengthAdjust="spacingAndGlyphs">SRH 0-3 km:</text>
<text x="177.3" y="283.8" font-size="14.73" text-anchor="start" textLength="85.8" lengthAdjust="spacingAndGlyphs">-198.0 m²/s²</text>
<path d="M604.8,67.4 L574.0,52.5 L583.8,42.1 L581.7,56.2 L585.6,58.1 L586.6,51.0 L585.6,58.1ZM604.8,120.9 L574.1,105.8 L584.0,95.4 L581.8,109.6 L585.6,111.5 L586.7,104.4 L585.6,111.5ZM604.8,173.9 L574.4,158.2 L584.5,148.0 L582.0,162.1 L585.8,164.1 L588.3,150.0 L585.8,164.1ZM604.8,227.1 L574.0,212.2 L583.8,201.7 L581.7,215.9 L585.6,217.8 L587.7,203.6 L585.6,217.8 L589.4,219.7 L590.5,212.6 L589.4,219.7ZM604.8,280.3 L573.6,266.3 L583.1,255.6 L581.4,269.8 L585.3,271.6 L587.0,257.3 L585.3,271.6 L589.2,273.3 L590.0,266.2 L589.2,273.3ZM604.8,333.2 L573.4,319.8 L582.7,308.9 L581.2,323.1 L585.1,324.8 L586.6,310.5 L585.1,324.8 L589.1,326.5 L590.5,312.2 L589.1,326.5ZM604.8,382.2 L573.1,369.4 L582.2,358.3 L581.0,372.6 L585.0,374.2 L586.1,359.9 L585.0,374.2 L588.9,375.8 L590.1,361.5 L588.9,375.8 L592.9,377.4 L593.5,370.3 L592.9,377.4ZM604.8,425.8 L572.8,413.7 L581.7,402.4 L580.8,416.7 L584.8,418.2 L585.7,403.9 L584.8,418.2 L588.8,419.7 L589.7,405.4 L588.8,419.7 L592.8,421.3 L593.2,414.1 L592.8,421.3ZM604.8,465.9 L573.1,453.0 L582.3,441.9 L581.1,456.2 L585.0,457.8 L586.2,443.5 L585.0,457.8 L589.0,459.4 L590.2,445.2 L589.0,459.4ZM604.8,501.1 L573.7,486.9 L583.2,476.3 L581.4,490.5 L585.3,492.3 L587.1,478.0 L585.3,492.3 L589.2,494.0 L590.1,486.9 L589.2,494.0ZM604.8,533.4 L574.4,517.7 L584.5,507.5 L582.0,521.6 L585.8,523.6 L588.3,509.5 L585.8,523.6ZM604.8,562.5 L575.7,544.6 L586.5,535.2 L582.9,549.1 L586.6,551.3 L588.4,544.4 L586.6,551.3ZM604.8,588.4 L576.3,569.5 L587.5,560.4 L583.4,574.2ZM604.8,612.6 L576.8,592.9 L588.2,584.2 L583.8,597.8ZM604.8,653.1 L576.1,634.6 L579.9,620.8 L576.1,634.6 L579.7,636.9 L583.5,623.1 L579.7,636.9 L583.2,639.2 L587.1,625.4 L583.2,639.2 L586.8,641.5 L590.7,627.7 L586.8,641.5 L590.4,643.8 L592.3,636.9 L590.4,643.8ZM604.8,686.9 L572.4,676.0 L572.7,661.7 L572.4,676.0 L576.4,677.4 L576.7,663.1 L576.4,677.4 L580.5,678.7 L580.8,664.4 L580.5,678.7 L584.5,680.1 L584.8,665.8 L584.5,680.1ZM604.8,715.1 L573.3,701.7 L574.8,687.4 L573.3,701.7 L577.3,703.4 L578.7,689.1 L577.3,703.4 L581.2,705.0 L581.9,697.9 L581.2,705.0ZM604.8,738.2 L581.3,713.4 L588.3,700.9 L581.3,713.4 L584.2,716.5 L591.2,704.0 L584.2,716.5ZM604.8,757.4 L581.6,732.3 L588.7,719.9 L581.6,732.3 L584.5,735.4 L588.1,729.2 L584.5,735.4ZM604.8,774.0 L599.6,740.2 L612.5,733.9 L599.6,740.2ZM604.8,787.4 L616.1,755.1 L614.0,761.2 L621.1,761.4 L614.0,761.2ZM604.8,798.3 L637.4,787.8 L631.3,789.8 L635.4,795.7 L631.3,789.8ZM604.8,807.3 L637.4,817.7 L631.3,815.7 L631.2,822.9 L631.3,815.7ZM604.8,815.6 L637.8,824.5 L631.6,822.9 L631.9,830.0 L631.6,822.9ZM604.8,821.4 L637.8,830.2 L631.6,828.6 L631.9,835.7 L631.6,828.6ZM604.8,827.6 L638.1,835.4 L631.9,833.9 L632.4,841.1 L631.9,833.9ZM604.8,832.0 L638.2,839.3 L632.0,837.9 L632.6,845.0 L632.0,837.9Z" fill="#00224f" stroke="#00224f" stroke-width="1.6" stroke-linejoin="round"/>
<text x="514.4" y="834.7" font-size="14.31" text-anchor="middle" textLength="63.6" lengthAdjust="spacingAndGlyphs">Mon-MDT</text>
<circle cx="515.3" cy="871.5" r="22.6" fill="#fff" stroke="#b0b0b0" stroke-width="1"/>
<path d="M515.3,871.5V850" stroke="#00224f" stroke-width="1.5" stroke-linecap="round" fill="none"/>
<clipPath id="hd"><rect x="690.4" y="82.5" width="189.0" height="189.0"/></clipPath>
<g clip-path="url(#hd)">
<circle cx="784.9" cy="177.0" r="23.6" fill="none" stroke="#808080" stroke-width="1.3" stroke-dasharray="5.14 2.22"/>
<circle cx="784.9" cy="177.0" r="47.3" fill="none" stroke="#808080" stroke-width="1.3" stroke-dasharray="5.14 2.22"/>
<circle cx="784.9" cy="177.0" r="70.9" fill="none" stroke="#808080" stroke-width="1.3" stroke-dasharray="5.14 2.22"/>
<circle cx="784.9" cy="177.0" r="94.5" fill="none" stroke="#808080" stroke-width="1.3" stroke-dasharray="5.14 2.22"/>
<circle cx="784.9" cy="177.0" r="118.2" fill="none" stroke="#808080" stroke-width="1.3" stroke-dasharray="5.14 2.22"/>
<path d="M690.4,177.0H879.4M784.9,271.5V82.5" fill="none" stroke="#808080" stroke-width="2.08" stroke-dasharray="7.7 3.3"/>
<path d="M776.8,173.8L778.2,175.2" stroke="#000086" stroke-width="3.3" stroke-linecap="round" fill="none"/>
<path d="M778.2,175.2L779.6,176.6" stroke="#000094" stroke-width="3.3" stroke-linecap="round" fill="none"/>
<path d="M779.6,176.6L781.0,178.0" stroke="#0000a2" stroke-width="3.3" stroke-linecap="round" fill="none"/>
<path d="M781.0,178.0L781.3,179.8" stroke="#0000ad" stroke-width="3.3" stroke-linecap="round" fill="none"/>
<path d="M781.3,179.8L781.5,181.5" stroke="#0000b8" stroke-width="3.3" stroke-linecap="round" fill="none"/>
<path d="M781.5,181.5L781.8,183.2" stroke="#0000c2" stroke-width="3.3" stroke-linecap="round" fill="none"/>
<path d="M781.8,183.2L782.1,185.0" stroke="#0000cc" stroke-width="3.3" stroke-linecap="round" fill="none"/>
<path d="M782.1,185.0L783.4,185.8" stroke="#0000d5" stroke-width="3.3" stroke-linecap="round" fill="none"/>
<path d="M783.4,185.8L784.7,186.6" stroke="#0000dd" stroke-width="3.3" stroke-linecap="round" fill="none"/>
<path d="M784.7,186.6L786.0,187.3" stroke="#0000e4" stroke-width="3.3" stroke-linecap="round" fill="none"/>
<path d="M786.0,187.3L787.3,188.1" stroke="#0000ec" stroke-width="3.3" stroke-linecap="round" fill="none"/>
<path d="M787.3,188.1L788.8,188.5" stroke="#0000f4" stroke-width="3.3" stroke-linecap="round" fill="none"/>
<path d="M788.8,188.5L790.4,188.8" stroke="#0000fc" stroke-width="3.3" stroke-linecap="round" fill="none"/>
<path d="M790.4,188.8L791.9,189.2" stroke="#0005ff" stroke-width="3.3" stroke-linecap="round" fill="none"/>
<path d="M791.9,189.2L793.5,189.5" stroke="#000dff" stroke-width="3.3" stroke-linecap="round" fill="none"/>
<path d="M793.5,189.5L795.0,189.9" stroke="#0015ff" stroke-width="3.3" stroke-linecap="round" fill="none"/>
<path d="M795.0,189.9L796.4,190.9" stroke="#0020ff" stroke-width="3.3" stroke-linecap="round" fill="none"/>
<path d="M796.4,190.9L797.8,192.0" stroke="#002dff" stroke-width="3.3" stroke-linecap="round" fill="none"/>
<path d="M797.8,192.0L799.2,193.1" stroke="#0039ff" stroke-width="3.3" stroke-linecap="round" fill="none"/>
<path d="M799.2,193.1L800.6,194.1" stroke="#0046ff" stroke-width="3.3" stroke-linecap="round" fill="none"/>
<path d="M800.6,194.1L802.0,193.5" stroke="#0052ff" stroke-width="3.3" stroke-linecap="round" fill="none"/>
<path d="M802.0,193.5L803.4,193.0" stroke="#005cff" stroke-width="3.3" stroke-linecap="round" fill="none"/>
<path d="M803.4,193.0L804.8,192.4" stroke="#0066ff" stroke-width="3.3" stroke-linecap="round" fill="none"/>
<path d="M804.8,192.4L806.2,191.9" stroke="#0070ff" stroke-width="3.3" stroke-linecap="round" fill="none"/>
<path d="M806.2,191.9L807.6,191.3" stroke="#007aff" stroke-width="3.3" stroke-linecap="round" fill="none"/>
<path d="M807.6,191.3L809.1,191.0" stroke="#0085ff" stroke-width="3.3" stroke-linecap="round" fill="none"/>
<path d="M809.1,191.0L810.7,190.7" stroke="#008fff" stroke-width="3.3" stroke-linecap="round" fill="none"/>
<path d="M810.7,190.7L812.2,190.5" stroke="#0099ff" stroke-width="3.3" stroke-linecap="round" fill="none"/>
<path d="M812.2,190.5L813.8,190.2" stroke="#00a3ff" stroke-width="3.3" stroke-linecap="round" fill="none"/>
<path d="M813.8,190.2L815.3,189.9" stroke="#00adff" stroke-width="3.3" stroke-linecap="round" fill="none"/>
<path d="M815.3,189.9L816.8,190.2" stroke="#00b6ff" stroke-width="3.3" stroke-linecap="round" fill="none"/>
<path d="M816.8,190.2L818.4,190.5" stroke="#00bcff" stroke-width="3.3" stroke-linecap="round" fill="none"/>
<path d="M818.4,190.5L819.9,190.7" stroke="#00c2ff" stroke-width="3.3" stroke-linecap="round" fill="none"/>
<path d="M819.9,190.7L821.5,191.0" stroke="#00c8ff" stroke-width="3.3" stroke-linecap="round" fill="none"/>
<path d="M821.5,191.0L823.0,191.3" stroke="#00ceff" stroke-width="3.3" stroke-linecap="round" fill="none"/>
<path d="M823.0,191.3L824.7,191.7" stroke="#00d5ff" stroke-width="3.3" stroke-linecap="round" fill="none"/>
<path d="M824.7,191.7L826.4,192.0" stroke="#00ddff" stroke-width="3.3" stroke-linecap="round" fill="none"/>
<path d="M826.4,192.0L828.1,192.3" stroke="#00e4ff" stroke-width="3.3" stroke-linecap="round" fill="none"/>
<path d="M828.1,192.3L829.8,192.7" stroke="#00ecff" stroke-width="3.3" stroke-linecap="round" fill="none"/>
<path d="M829.8,192.7L829.6,194.2" stroke="#00f3ff" stroke-width="3.3" stroke-linecap="round" fill="none"/>
<path d="M829.6,194.2L829.4,195.7" stroke="#00faff" stroke-width="3.3" stroke-linecap="round" fill="none"/>
<path d="M829.4,195.7L829.2,197.2" stroke="#02fffd" stroke-width="3.3" stroke-linecap="round" fill="none"/>
<path d="M829.2,197.2L829.0,198.8" stroke="#09fff6" stroke-width="3.3" stroke-linecap="round" fill="none"/>
<path d="M829.0,198.8L828.8,200.3" stroke="#0ffff0" stroke-width="3.3" stroke-linecap="round" fill="none"/>
<path d="M828.8,200.3L828.6,201.8" stroke="#16ffe9" stroke-width="3.3" stroke-linecap="round" fill="none"/>
<path d="M828.6,201.8L829.1,203.7" stroke="#22ffdd" stroke-width="3.3" stroke-linecap="round" fill="none"/>
<path d="M829.1,203.7L829.5,205.5" stroke="#33ffcc" stroke-width="3.3" stroke-linecap="round" fill="none"/>
<path d="M829.5,205.5L830.0,207.4" stroke="#44ffbb" stroke-width="3.3" stroke-linecap="round" fill="none"/>
<path d="M830.0,207.4L831.4,208.7" stroke="#55ffaa" stroke-width="3.3" stroke-linecap="round" fill="none"/>
<path d="M831.4,208.7L832.9,210.1" stroke="#66ff99" stroke-width="3.3" stroke-linecap="round" fill="none"/>
<path d="M832.9,210.1L834.3,211.4" stroke="#77ff88" stroke-width="3.3" stroke-linecap="round" fill="none"/>
<path d="M834.3,211.4L835.9,211.6" stroke="#86ff79" stroke-width="3.3" stroke-linecap="round" fill="none"/>
<path d="M835.9,211.6L837.5,211.9" stroke="#93ff6c" stroke-width="3.3" stroke-linecap="round" fill="none"/>
<path d="M837.5,211.9L839.0,212.1" stroke="#9fff60" stroke-width="3.3" stroke-linecap="round" fill="none"/>
<path d="M839.0,212.1L840.6,212.3" stroke="#acff53" stroke-width="3.3" stroke-linecap="round" fill="none"/>
<path d="M840.6,212.3L842.2,212.0" stroke="#b9ff46" stroke-width="3.3" stroke-linecap="round" fill="none"/>
<path d="M842.2,212.0L843.8,211.6" stroke="#c6ff39" stroke-width="3.3" stroke-linecap="round" fill="none"/>
<path d="M843.8,211.6L845.3,211.2" stroke="#d2ff2d" stroke-width="3.3" stroke-linecap="round" fill="none"/>
<path d="M845.3,211.2L846.9,210.9" stroke="#dfff20" stroke-width="3.3" stroke-linecap="round" fill="none"/>
<path d="M846.9,210.9L848.8,210.3" stroke="#f0ff0f" stroke-width="3.3" stroke-linecap="round" fill="none"/>
<path d="M848.8,210.3L850.6,209.7" stroke="#fffa00" stroke-width="3.3" stroke-linecap="round" fill="none"/>
<path d="M850.6,209.7L852.5,209.1" stroke="#ffe500" stroke-width="3.3" stroke-linecap="round" fill="none"/>
<path d="M852.5,209.1L854.4,208.8" stroke="#ffcf00" stroke-width="3.3" stroke-linecap="round" fill="none"/>
<path d="M854.4,208.8L856.2,208.4" stroke="#ffb800" stroke-width="3.3" stroke-linecap="round" fill="none"/>
<path d="M856.2,208.4L858.1,208.1" stroke="#ffa000" stroke-width="3.3" stroke-linecap="round" fill="none"/>
<path d="M858.1,208.1L859.7,208.0" stroke="#ff8800" stroke-width="3.3" stroke-linecap="round" fill="none"/>
<path d="M859.7,208.0L861.2,207.9" stroke="#ff7100" stroke-width="3.3" stroke-linecap="round" fill="none"/>
<path d="M861.2,207.9L862.8,207.8" stroke="#ff5b00" stroke-width="3.3" stroke-linecap="round" fill="none"/>
<path d="M862.8,207.8L864.4,207.7" stroke="#ff4400" stroke-width="3.3" stroke-linecap="round" fill="none"/>
<path d="M864.4,207.7L866.3,208.2" stroke="#ff2000" stroke-width="3.3" stroke-linecap="round" fill="none"/>
<path d="M866.3,208.2L868.1,208.6" stroke="#f00000" stroke-width="3.3" stroke-linecap="round" fill="none"/>
<path d="M868.1,208.6L870.0,209.1" stroke="#c00000" stroke-width="3.3" stroke-linecap="round" fill="none"/>
<rect x="690.4" y="268.5" width="158.2" height="3" fill="#00224f"/>
</g>
<path d="M690.4,82.0V271.5H879.9" fill="none" stroke="#00224f" stroke-width="1.1"/>
<text x="690.4" y="292.0" font-size="14.73" text-anchor="middle" textLength="29.3" lengthAdjust="spacingAndGlyphs">−40</text>
<text x="680.3" y="276.6" font-size="14.73" text-anchor="end" textLength="29.3" lengthAdjust="spacingAndGlyphs">−40</text>
<text x="737.6" y="292.0" font-size="14.73" text-anchor="middle" textLength="29.3" lengthAdjust="spacingAndGlyphs">−20</text>
<text x="680.3" y="229.4" font-size="14.73" text-anchor="end" textLength="29.3" lengthAdjust="spacingAndGlyphs">−20</text>
<text x="784.9" y="292.0" font-size="14.73" text-anchor="middle" textLength="8.8" lengthAdjust="spacingAndGlyphs">0</text>
<text x="680.3" y="182.1" font-size="14.73" text-anchor="end" textLength="8.8" lengthAdjust="spacingAndGlyphs">0</text>
<text x="832.2" y="292.0" font-size="14.73" text-anchor="middle" textLength="17.7" lengthAdjust="spacingAndGlyphs">20</text>
<text x="680.3" y="134.8" font-size="14.73" text-anchor="end" textLength="17.7" lengthAdjust="spacingAndGlyphs">20</text>
<text x="879.4" y="292.0" font-size="14.73" text-anchor="middle" textLength="17.7" lengthAdjust="spacingAndGlyphs">40</text>
<text x="680.3" y="87.6" font-size="14.73" text-anchor="end" textLength="17.7" lengthAdjust="spacingAndGlyphs">40</text>
<path d="M690.4,271.5v4.9M690.4,271.5h-4.9M737.6,271.5v4.9M690.4,224.3h-4.9M784.9,271.5v4.9M690.4,177.0h-4.9M832.2,271.5v4.9M690.4,129.7h-4.9M879.4,271.5v4.9M690.4,82.5h-4.9" stroke="#00224f" stroke-width="1.1" fill="none"/>
<g>
<text x="753.2" y="307.2" font-size="14.73" textLength="43.9" lengthAdjust="spacingAndGlyphs">u (m s</text>
<text x="797.1" y="301.9" font-size="10.28" textLength="14.3" lengthAdjust="spacingAndGlyphs">−1</text>
<text x="811.4" y="307.2" font-size="14.73" textLength="5.4" lengthAdjust="spacingAndGlyphs">)</text>
</g>
<g transform="rotate(-90 647.6 177.8)">
<text x="616.1" y="177.8" font-size="14.73" textLength="43.3" lengthAdjust="spacingAndGlyphs">v (m s</text>
<text x="659.4" y="172.5" font-size="10.28" textLength="14.3" lengthAdjust="spacingAndGlyphs">−1</text>
<text x="673.7" y="177.8" font-size="14.73" textLength="5.4" lengthAdjust="spacingAndGlyphs">)</text>
</g>
<defs><linearGradient id="jet" x1="0" x2="1" y1="0" y2="0"><stop offset="0.0000" stop-color="#000080"/><stop offset="0.0312" stop-color="#00009f"/><stop offset="0.0625" stop-color="#0000bf"/><stop offset="0.0938" stop-color="#0000df"/><stop offset="0.1250" stop-color="#0000ff"/><stop offset="0.1562" stop-color="#0020ff"/><stop offset="0.1875" stop-color="#0040ff"/><stop offset="0.2188" stop-color="#0060ff"/><stop offset="0.2500" stop-color="#0080ff"/><stop offset="0.2812" stop-color="#009fff"/><stop offset="0.3125" stop-color="#00bfff"/><stop offset="0.3438" stop-color="#00dfff"/><stop offset="0.3750" stop-color="#00ffff"/><stop offset="0.4062" stop-color="#20ffdf"/><stop offset="0.4375" stop-color="#40ffbf"/><stop offset="0.4688" stop-color="#60ff9f"/><stop offset="0.5000" stop-color="#80ff80"/><stop offset="0.5312" stop-color="#9fff60"/><stop offset="0.5625" stop-color="#bfff40"/><stop offset="0.5938" stop-color="#dfff20"/><stop offset="0.6250" stop-color="#ffff00"/><stop offset="0.6562" stop-color="#ffdf00"/><stop offset="0.6875" stop-color="#ffbf00"/><stop offset="0.7188" stop-color="#ff9f00"/><stop offset="0.7500" stop-color="#ff8000"/><stop offset="0.7812" stop-color="#ff6000"/><stop offset="0.8125" stop-color="#ff4000"/><stop offset="0.8438" stop-color="#ff2000"/><stop offset="0.8750" stop-color="#ff0000"/><stop offset="0.9062" stop-color="#df0000"/><stop offset="0.9375" stop-color="#bf0000"/><stop offset="0.9688" stop-color="#9f0000"/><stop offset="1.0000" stop-color="#800000"/></linearGradient></defs>
<rect x="650.3" y="312.3" width="270.3" height="12.9" fill="url(#jet)" stroke="#00224f" stroke-width="1.1"/>
<text x="650.3" y="345.3" font-size="14.73" text-anchor="middle" textLength="8.8" lengthAdjust="spacingAndGlyphs">0</text>
<text x="704.4" y="345.3" font-size="14.73" text-anchor="middle" textLength="8.8" lengthAdjust="spacingAndGlyphs">2</text>
<text x="758.4" y="345.3" font-size="14.73" text-anchor="middle" textLength="8.8" lengthAdjust="spacingAndGlyphs">4</text>
<text x="812.5" y="345.3" font-size="14.73" text-anchor="middle" textLength="8.8" lengthAdjust="spacingAndGlyphs">6</text>
<text x="866.5" y="345.3" font-size="14.73" text-anchor="middle" textLength="8.8" lengthAdjust="spacingAndGlyphs">8</text>
<text x="919.2" y="345.3" font-size="14.73" text-anchor="middle" textLength="17.7" lengthAdjust="spacingAndGlyphs">10</text>
<path d="M650.3,325.2v4.9M704.4,325.2v4.9M758.4,325.2v4.9M812.5,325.2v4.9M866.5,325.2v4.9M920.6,325.2v4.9" stroke="#00224f" stroke-width="1.1" fill="none"/>
<text x="784.3" y="365.5" font-size="14.73" text-anchor="middle" textLength="115.0" lengthAdjust="spacingAndGlyphs">Height (km AGL)</text>
</svg></body></html>
